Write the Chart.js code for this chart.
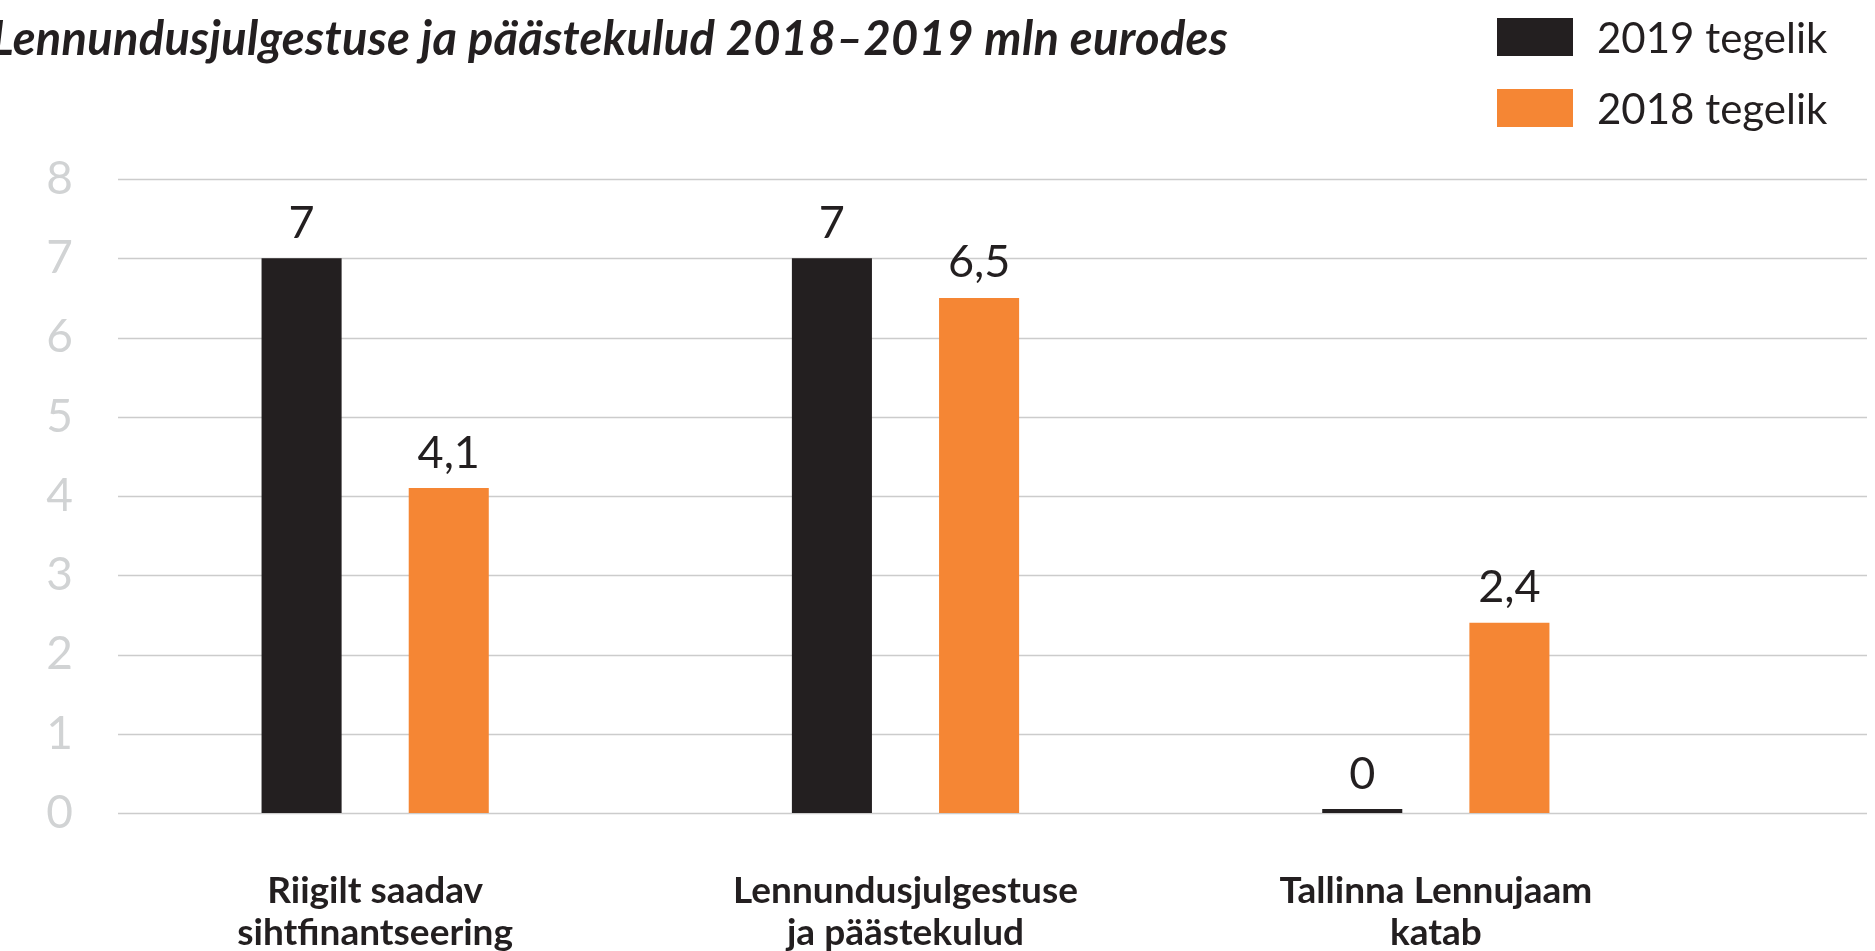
<!DOCTYPE html>
<html lang="et">
<head>
    <meta charset="UTF-8">
    <title>Lennundusjulgestuse ja päästekulud 2018–2019</title>
    <script src="https://cdn.jsdelivr.net/npm/chart.js@4"></script>
    <style>
body {
    margin: 0;
    padding: 0;
    background-color: white;
    overflow: hidden;
    font-family: Lato, 'Noto Sans', sans-serif;
    color: #231f20;
}

.wrap {
    position: relative;
    width: 1875px;
    height: 1011px;
}

.title {
    position: absolute;
    left: -9px;
    top: 14px;
    margin: 0;
    font-size: 47px;
    line-height: 47px;
    letter-spacing: 0.3px;
    font-weight: bold;
    font-style: italic;
    white-space: nowrap;
}

.legend {
    position: absolute;
    left: 1497px;
    top: 18px;
}

.legend-item {
    display: flex;
    align-items: center;
    height: 38px;
    margin-bottom: 33px;
    font-size: 42px;
    white-space: nowrap;
}

.legend-box {
    width: 76px;
    height: 38px;
    margin-right: 24px;
}
    </style>
</head>
<body>
    <div class="wrap">
        <canvas id="graafik"></canvas>
        <h1 class="title" id="pealkiri"></h1>
        <div class="legend" id="legend"></div>
    </div>

    <script>
// Andmed
const pealkiri = 'Lennundusjulgestuse ja päästekulud 2018–2019 mln eurodes';
const kategooriad = [
    ['Riigilt saadav', 'sihtfinantseering'],
    ['Lennundusjulgestuse', 'ja päästekulud'],
    ['Tallinna Lennujaam', 'katab']
];
const seeriad = ['2019 tegelik', '2018 tegelik'];
const tegelik2019 = [7, 7, 0];
const tegelik2018 = [4.1, 6.5, 2.4];
const yTikid = [0, 1, 2, 3, 4, 5, 6, 7, 8];

const varvid = ['#231f20', '#f58634'];

document.getElementById('pealkiri').textContent = pealkiri;

// Legend HTML-ina
const legend = document.getElementById('legend');
seeriad.forEach(function(nimi, i) {
    const rida = document.createElement('div');
    rida.className = 'legend-item';
    const kast = document.createElement('span');
    kast.className = 'legend-box';
    kast.style.backgroundColor = varvid[i];
    rida.appendChild(kast);
    rida.appendChild(document.createTextNode(nimi));
    legend.appendChild(rida);
});

function vorminda(v) {
    return String(v).replace('.', ',');
}

// Ruudujooned üle kogu laiuse
const ruudustik = {
    id: 'ruudustik',
    beforeDatasetsDraw(chart) {
        const ctx = chart.ctx;
        const y = chart.scales.y;
        ctx.save();
        ctx.strokeStyle = '#cccccc';
        ctx.lineWidth = 1.5;
        yTikid.forEach(function(t) {
            const py = Math.round(y.getPixelForValue(t)) + 0.5;
            ctx.beginPath();
            ctx.moveTo(118, py);
            ctx.lineTo(chart.width - 8, py);
            ctx.stroke();
        });
        ctx.restore();
    }
};

// Väärtused tulpade kohal
const vaartused = {
    id: 'vaartused',
    afterDatasetsDraw(chart) {
        const ctx = chart.ctx;
        ctx.save();
        ctx.font = '45px Lato';
        ctx.fillStyle = '#231f20';
        ctx.textAlign = 'center';
        ctx.textBaseline = 'middle';
        chart.data.datasets.forEach(function(ds, i) {
            chart.getDatasetMeta(i).data.forEach(function(el, j) {
                ctx.fillText(vorminda(ds.data[j]), el.x, el.y - 35);
            });
        });
        ctx.restore();
    }
};

const ctx = document.getElementById('graafik').getContext('2d');
new Chart(ctx, {
    type: 'bar',
    data: {
        labels: kategooriad,
        datasets: [{
            label: seeriad[0],
            data: tegelik2019,
            backgroundColor: varvid[0],
            barPercentage: 0.544,
            categoryPercentage: 0.555,
            minBarLength: 4
        }, {
            label: seeriad[1],
            data: tegelik2018,
            backgroundColor: varvid[1],
            barPercentage: 0.544,
            categoryPercentage: 0.555
        }]
    },
    options: {
        responsive: true,
        maintainAspectRatio: false,
        animation: false,
        layout: {
            padding: { top: 179, right: 174, left: 0, bottom: 0 }
        },
        plugins: {
            legend: { display: false },
            title: { display: false },
            tooltip: { enabled: false }
        },
        scales: {
            x: {
                grid: { display: false, drawTicks: false },
                border: { display: false },
                ticks: {
                    color: '#231f20',
                    font: { family: 'Lato', size: 37, weight: 'bold', lineHeight: 1.135 },
                    padding: 57,
                    maxRotation: 0
                }
            },
            y: {
                min: 0,
                max: 8,
                grid: { display: false, drawTicks: false },
                border: { display: false },
                afterFit: function(s) { s.width = 110; },
                ticks: {
                    stepSize: 1,
                    color: '#d1d3d4',
                    font: { family: 'Lato', size: 46 },
                    padding: 37
                }
            }
        }
    },
    plugins: [ruudustik, vaartused]
});
    </script>
</body>
</html>
